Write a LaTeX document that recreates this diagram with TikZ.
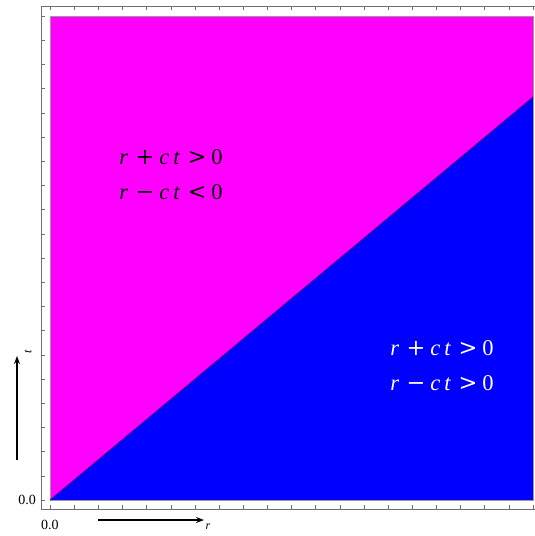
\documentclass[tikz,border=0pt]{standalone}
\usepackage{fontspec}
\setmainfont{Liberation Serif}
\newfontfamily\opfont{DejaVu Serif}
\usetikzlibrary{arrows.meta}
\definecolor{mag}{RGB}{255,0,255}
\definecolor{blu}{RGB}{0,0,255}
\definecolor{frm}{RGB}{110,110,110}
\newcommand{\op}[1]{\hspace{0.33em}{\opfont #1}\hspace{0.22em}}
\newcommand{\rel}[3]{\textit{r}\op{#1}\textit{c}\hspace{0.18em}\textit{t}\op{#2}#3}
\tikzset{
  tick/.style={draw=frm, line width=0.5pt},
  axarrow/.style={line width=1.6pt, -{Stealth[length=8pt,width=6pt]}},
  region/.style={font=\fontsize{22.5}{35}\selectfont, align=center, inner sep=0pt},
  ticklab/.style={font=\fontsize{14}{14}\selectfont, inner sep=0pt}
}
\begin{document}
\begin{tikzpicture}[x=1pt,y=-1pt]
\useasboundingbox (0,0) rectangle (535,536);
% fills
\fill[mag] (50,16) rectangle (533,500);
\fill[blu] (50,500) -- (533,97) -- (533,500) -- cycle;
\draw[draw=frm!70, line width=0.8pt] (50,16) rectangle (533,500);
\draw[draw={rgb,255:red,90;green,0;blue,130}, line width=0.8pt] (50,500) -- (533,97);
% frame
\draw[frm, line width=0.6pt] (41,509) -- (41,6) -- (535,6);
\draw[frm, line width=0.6pt] (41,509) -- (535,509);
\foreach \i in {0,...,20} {
  \pgfmathsetmacro{\xx}{50+24.15*\i}
  \pgfmathsetmacro{\yy}{500-24.2*\i}
  \draw[tick] (\xx,509) -- (\xx,505);
  \draw[tick] (\xx,6) -- (\xx,10);
  \draw[tick] (41,\yy) -- (45,\yy);
}
% tick labels
\node[ticklab, anchor=east] (ly) at (36,500) {0.0};
\node[ticklab] (lx) at (50,525) {0.0};
% axis arrows
\coordinate (ta) at (17,460);
\coordinate (tb) at (17,356);
\draw[axarrow] (ta) -- (tb);
\node[font=\fontsize{12}{12}\selectfont\itshape, rotate=90, inner sep=0pt] (tl) at (28,352) {t};
\coordinate (ra) at (98,520);
\coordinate (rb) at (204,520);
\draw[axarrow] (ra) -- (rb);
\node[font=\fontsize{12}{12}\selectfont\itshape, inner sep=0pt] (rl) at (208,527) {r};
% region labels
\node[region, text=black] (up) at (171,175) {\rel{+}{>}{0}\\\rel{−}{<}{0}};
\node[region, text=white] (dn) at (442,366) {\rel{+}{>}{0}\\\rel{−}{>}{0}};
\end{tikzpicture}
\end{document}
